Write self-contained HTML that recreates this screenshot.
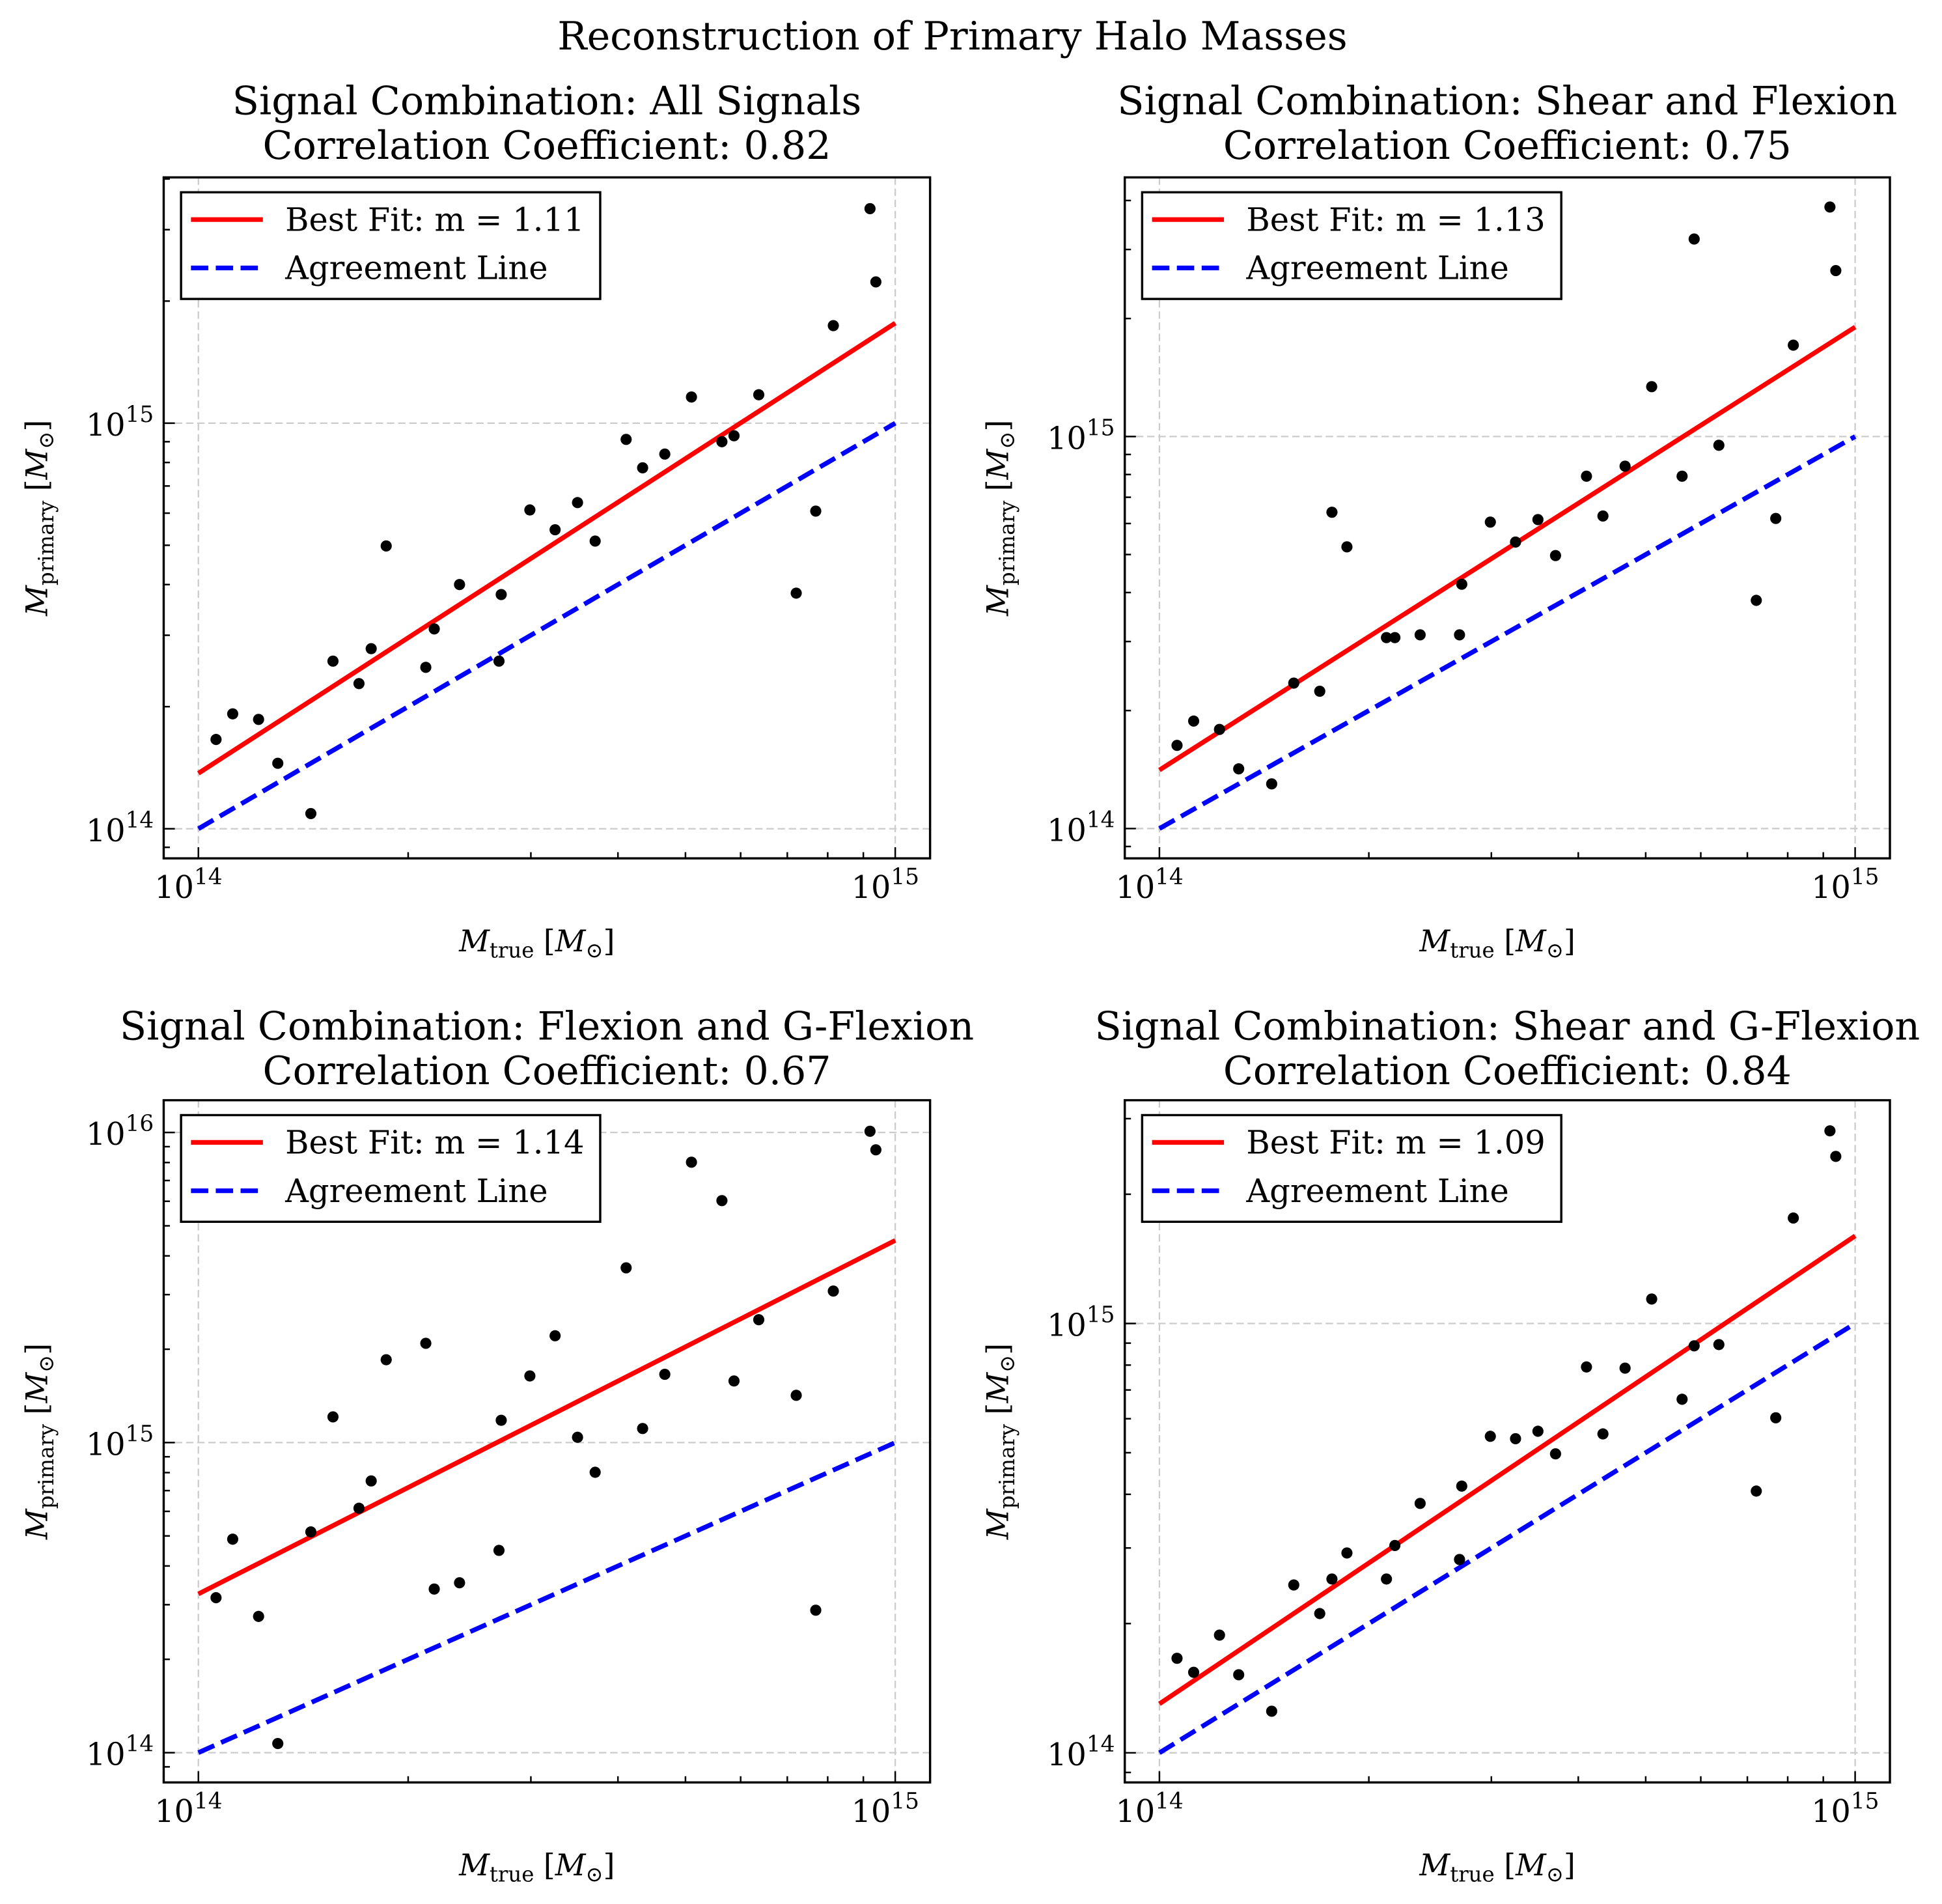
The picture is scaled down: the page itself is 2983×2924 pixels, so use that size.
<!DOCTYPE html>
<html><head><meta charset="utf-8"><title>Reconstruction of Primary Halo Masses</title>
<style>html,body{margin:0;padding:0;background:#fff}svg{display:block}text{font-family:"DejaVu Serif","Liberation Serif",serif;fill:#000}</style>
</head><body>
<svg id="fig" xmlns="http://www.w3.org/2000/svg" width="2983" height="2924" viewBox="0 0 1566 1535">
<rect width="1566" height="1535" fill="#fff"/>
<text x="768" y="40" font-size="31.6" text-anchor="middle">Reconstruction of Primary Halo Masses</text>
</svg>
<script>
// true masses (units of 1e14 Msun)
const xTrue = [1.06,1.12,1.22,1.30,1.45,1.56,1.70,1.77,1.86,2.12,2.18,2.37,2.70,2.72,2.99,3.25,3.50,3.71,4.11,4.34,4.67,5.10,5.64,5.87,6.37,7.21,7.69,8.15,9.20,9.38];
// reconstructed primary masses (units of 1e14 Msun)
const yAll = [1.66,1.92,1.86,1.45,1.09,2.59,2.28,2.78,4.98,2.50,3.11,4.00,2.59,3.78,6.11,5.46,6.37,5.12,9.12,7.76,8.39,11.6,9.0,9.31,11.75,3.81,6.07,17.4,33.8,22.3];
const yShearFlex = [1.63,1.88,1.79,1.42,1.30,2.35,2.24,6.41,5.23,3.07,3.07,3.12,3.12,4.20,6.05,5.38,6.14,4.97,7.92,6.27,8.40,13.4,7.92,31.9,9.5,3.82,6.18,17.1,38.5,26.5];
const yFlexG = [3.16,4.88,2.75,1.07,5.15,12.1,6.14,7.52,18.5,20.9,3.37,3.53,4.49,11.8,16.4,22.1,10.4,8.02,36.6,11.1,16.6,80.2,60.3,15.8,24.9,14.2,2.88,30.8,100.9,87.9];
const yShearG = [1.66,1.54,1.88,1.52,1.25,2.46,2.11,2.54,2.92,2.54,3.04,3.81,2.82,4.18,5.46,5.39,5.61,4.97,7.92,5.53,7.87,11.4,6.66,8.87,8.93,4.07,6.03,17.6,28.1,24.5];
const fitSlopes = [1.11,1.13,1.14,1.09];
const fitAmps = [1.37,1.41,3.25,1.30];
const correlations = ["0.82","0.75","0.67","0.84"];
const combos = ["All Signals","Shear and Flexion","Flexion and G-Flexion","Shear and G-Flexion"];
const seriesList = [yAll,yShearFlex,yFlexG,yShearG];
// layout only
const layouts = [
 {l:132,t:143,r:750,b:692,ymin:-0.073,ymax:1.606,tt:92},
 {l:907,t:143,r:1524,b:692,ymin:-0.076,ymax:1.661,tt:92},
 {l:132,t:887,r:750,b:1437,ymin:-0.096,ymax:2.104,tt:838},
 {l:907,t:887,r:1524,b:1437,ymin:-0.069,ymax:1.520,tt:838}
];
const NS="http://www.w3.org/2000/svg";
const fig=document.getElementById('fig');
function mk(tag,attrs,parent){const e=document.createElementNS(NS,tag);for(const k in attrs)e.setAttribute(k,attrs[k]);(parent||fig).appendChild(e);return e;}
const XMIN=-0.0498, XMAX=1.05;
layouts.forEach((L,i)=>{
  const g=mk('g',{});
  
  
  const sx=v=>L.l+(Math.log10(v)-XMIN)/(XMAX-XMIN)*(L.r-L.l);
  const sy=v=>L.b-(Math.log10(v)-L.ymin)/(L.ymax-L.ymin)*(L.b-L.t);
  const cx=(L.l+L.r)/2;
  const t1=mk('text',{x:cx,y:L.tt,'font-size':31.6,'text-anchor':'middle'},g);t1.textContent='Signal Combination: '+combos[i];
  
  
  const t2=mk('text',{x:cx,y:L.tt+36,'font-size':31.6,'text-anchor':'middle'},g);t2.textContent='Correlation Coefficient: '+correlations[i];
  
  
  [1,10].forEach(v=>{const x=sx(v);const gl=mk('line',{x1:x,x2:x,y1:L.t,y2:L.b,stroke:'#cccccc','stroke-width':1.2,'stroke-dasharray':'6,3'},g);
    
    });
  for(let d=0; d<=2; d++){const v=Math.pow(10,d);if(d<L.ymin||d>L.ymax) continue;const y=sy(v);
    const gl=mk('line',{x1:L.l,x2:L.r,y1:y,y2:y,stroke:'#cccccc','stroke-width':1.2,'stroke-dasharray':'6,3'},g);
    
    }
  const cp=mk('clipPath',{id:'cp'+i},g);mk('rect',{x:L.l,y:L.t,width:L.r-L.l,height:L.b-L.t},cp);
  const pg=mk('g',{'clip-path':'url(#cp'+i+')'},g);
  const ag=mk('line',{x1:sx(1),y1:sy(1),x2:sx(10),y2:sy(10),stroke:'#0000ff','stroke-width':3.8,'stroke-dasharray':'14,6'},pg);
  
  
  const m=fitSlopes[i],a=fitAmps[i];
  const bf=mk('line',{x1:sx(1),y1:sy(a),x2:sx(10),y2:sy(a*Math.pow(10,m)),stroke:'#ff0000','stroke-width':3.8},pg);
  
  
  const ys=seriesList[i];
  xTrue.forEach((xv,j)=>{const c=mk('circle',{cx:sx(xv),cy:sy(ys[j]),r:4.5,fill:'#000'},pg);
    
    });
  const fr=mk('rect',{x:L.l,y:L.t,width:L.r-L.l,height:L.b-L.t,fill:'none',stroke:'#000','stroke-width':1.8},g);
  
  
  for(let d=0; d<=1; d++){for(let k=1;k<=9;k++){const v=k*Math.pow(10,d);const lg=Math.log10(v);if(lg<XMIN||lg>XMAX)continue;const x=sx(v);const len=k===1?9:5;
    mk('line',{x1:x,x2:x,y1:L.b,y2:L.b-len,stroke:'#000','stroke-width':1.3},g);}}
  [[1,'14'],[10,'15']].forEach(([v,e])=>{const tx=mk('text',{x:sx(v)-8,y:L.b+32,'font-size':25,'text-anchor':'middle'},g);
    
    
    tx.appendChild(document.createTextNode('10'));const s=mk('tspan',{dy:-11,'font-size':18},tx);s.textContent=e;});
  for(let d=-1; d<=2; d++){for(let k=1;k<=9;k++){const v=k*Math.pow(10,d);const lg=Math.log10(v);if(lg<L.ymin||lg>L.ymax)continue;const y=sy(v);const len=k===1?9:5;
    mk('line',{x1:L.l,x2:L.l+len,y1:y,y2:y,stroke:'#000','stroke-width':1.3},g);}}
  for(let d=0; d<=2; d++){if(d<L.ymin||d>L.ymax)continue;const y=sy(Math.pow(10,d));
    const tx=mk('text',{x:L.l-8,y:y+10,'font-size':25,'text-anchor':'end'},g);
    
    
    tx.appendChild(document.createTextNode('10'));const s=mk('tspan',{dy:-11,'font-size':18},tx);s.textContent=String(14+d);}
  const xl=mk('text',{x:(L.l+L.r)/2-8,y:L.b+75,'font-size':24,'text-anchor':'middle'},g);
  
  
  xl.innerHTML='<tspan font-style="italic">M</tspan><tspan font-size="17" dy="5">true</tspan><tspan dy="-5"> [</tspan><tspan font-style="italic">M</tspan><tspan font-size="17" dy="5">⊙</tspan><tspan dy="-5">]</tspan>';
  const ly=(L.t+L.b)/2;
  const yl=mk('text',{x:0,y:0,'font-size':24,'text-anchor':'middle',transform:'translate('+(L.l-94)+','+ly+') rotate(-90)'},g);
  
  
  yl.innerHTML='<tspan font-style="italic">M</tspan><tspan font-size="17" dy="5">primary</tspan><tspan dy="-5"> [</tspan><tspan font-style="italic">M</tspan><tspan font-size="17" dy="5">⊙</tspan><tspan dy="-5">]</tspan>';
  const lg=mk('g',{},g);
  
  
  const lx=L.l+14, lyy=L.t+12;
  mk('rect',{x:lx,y:lyy,width:338,height:86,fill:'#fff',stroke:'#000','stroke-width':1.8},lg);
  mk('line',{x1:lx+8,x2:lx+66,y1:lyy+22,y2:lyy+22,stroke:'#ff0000','stroke-width':3.8},lg);
  const e1=mk('text',{x:lx+84,y:lyy+31,'font-size':26},lg);e1.textContent='Best Fit: m = '+fitSlopes[i].toFixed(2);
  
  
  mk('line',{x1:lx+8,x2:lx+66,y1:lyy+61,y2:lyy+61,stroke:'#0000ff','stroke-width':3.8,'stroke-dasharray':'14,6'},lg);
  const e2=mk('text',{x:lx+84,y:lyy+70,'font-size':26},lg);e2.textContent='Agreement Line';
  
  
});
</script>
</body></html>
